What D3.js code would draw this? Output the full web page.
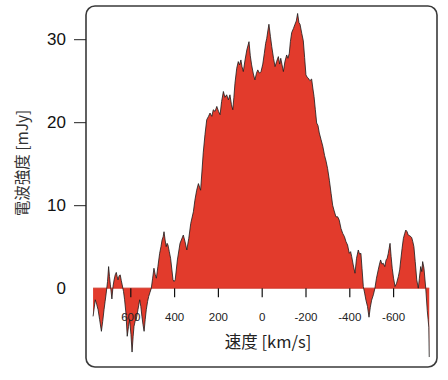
<!DOCTYPE html>
<html>
<head>
<meta charset="utf-8">
<script src="https://cdn.jsdelivr.net/npm/d3@7"></script>
<style>
  body { margin: 0; background: #fff; }
  svg { display: block; }
</style>
</head>
<body>
<script>
// spectrum: velocity [km/s] and flux density [mJy]
const velocity = [
  770, 760, 753, 747, 740, 732, 726, 720, 715, 710,
  704, 699, 695, 691, 684, 679, 674, 669, 664, 660,
  656, 651, 646, 641, 637, 631, 626, 620, 614, 608,
  603, 597, 592, 587, 583, 578, 573, 565, 557, 552,
  547, 542, 537, 532, 527, 521, 516, 510, 504, 498,
  492, 486, 481, 474, 466, 460, 455, 450, 446, 441,
  436, 432, 428, 422, 416, 410, 405, 400, 395, 385,
  373, 358, 350, 342, 333, 324, 312, 305, 297, 289,
  279, 273, 267, 259, 251, 243, 236, 228, 221, 213,
  205, 197, 190, 183, 175, 168, 160, 152, 145, 138,
  132, 127, 122, 114, 107, 101, 95, 90, 84, 76,
  68, 58, 52, 46, 38, 31, 24, 18, 10, 3,
  -5, -12, -18, -23, -28, -33, -40, -46, -54, -61,
  -68, -76, -82, -87, -93, -99, -106, -114, -120, -126,
  -131, -137, -145, -152, -158, -164, -170, -175, -183, -190,
  -196, -202, -208, -213, -220, -228, -234, -239, -245, -251,
  -257, -263, -271, -279, -287, -294, -301, -309, -317, -324,
  -331, -339, -347, -354, -362, -370, -378, -385, -392, -400,
  -406, -411, -418, -426, -433, -441, -447, -453, -458, -464,
  -470, -476, -483, -490, -496, -502, -510, -517, -524, -532,
  -538, -543, -549, -555, -562, -568, -573, -578, -582, -586,
  -591, -596, -602, -609, -616, -624, -630, -635, -641, -647,
  -653, -658, -664, -669, -677, -685, -690, -695, -701, -708,
  -715, -720, -726, -731, -735, -741, -749, -756, -760, -763, -765
];
const flux = [
  -3.4, -1.4, -2.0, -2.6, -3.8, -5.2, -4.0, -2.6, -1.6, -0.6,
  0.8, 2.6, 1.4, 0.4, -1.3, 0.2, 1.0, 1.6, 1.9, 1.4,
  1.0, 1.5, 1.6, 0.9, 0.4, -0.4, -1.4, -3.0, -5.8, -4.6,
  -3.8, -5.6, -7.7, -5.8, -4.6, -4.0, -3.8, -2.6, -1.4, -2.2,
  -3.4, -4.4, -5.2, -3.8, -2.6, -1.6, -1.0, -0.5, 0, 1.2,
  2.4, 1.6, 1.2, 2.6, 4.2, 5.0, 5.8, 6.2, 6.8, 5.8,
  5.0, 5.4, 5.2, 4.4, 3.6, 2.2, 1.0, 0.8, 1.0, 3.4,
  5.4, 6.4, 5.6, 4.6, 6.0, 7.8, 9.2, 10.6, 11.8, 12.6,
  11.8, 14.0, 16.3, 18.5, 20.3, 20.7, 21.1, 20.7, 21.5, 21.3,
  21.9, 21.3, 20.9, 22.5, 23.7, 23.0, 23.3, 22.7, 23.3, 22.1,
  21.5, 23.0, 24.7, 26.5, 27.3, 26.9, 27.5, 26.7, 26.1, 27.5,
  28.7, 29.7, 28.0, 26.9, 25.8, 25.1, 25.9, 26.3, 25.9, 26.1,
  27.0, 28.3, 29.5, 30.1, 31.0, 31.8, 30.3, 29.1, 27.7, 26.7,
  27.3, 27.9, 27.0, 27.7, 26.9, 26.1, 27.3, 28.1, 27.7, 28.3,
  29.7, 30.8, 31.3, 31.8, 32.2, 33.1, 32.0, 31.8, 30.7, 29.8,
  27.8, 25.7, 25.4, 25.3, 25.0, 25.2, 24.0, 23.1, 21.5, 19.9,
  19.6, 18.7, 17.9, 17.1, 16.0, 15.3, 14.4, 13.0, 11.4, 10.0,
  9.3, 8.6, 8.6, 8.2, 7.2, 6.6, 6.2, 5.6, 5.2, 4.2,
  4.4, 3.8, 2.8, 1.8, 3.6, 4.6, 4.1, 4.2, 2.4, 0.2,
  -0.6, -1.45, -2.2, -3.5, -2.3, -1.45, -0.8, 0, 1.2, 2.2,
  2.9, 3.4, 2.9, 3.0, 2.6, 3.4, 3.6, 4.2, 4.8, 5.4,
  3.8, 2.4, 1.2, 0.2, 0.6, 1.4, 2.2, 3.4, 4.8, 6.0,
  6.6, 7.0, 6.8, 6.4, 6.3, 6.1, 5.6, 5.0, 3.2, 1.0,
  0, 1.2, 2.6, 2.0, 3.2, 2.4, 0, -2.7, -3.8, -4.7, -8.3
];
const xTicks = [600, 400, 200, 0, -200, -400, -600];
const yTicks = [0, 10, 20, 30];

const data = velocity.map((v, i) => ({v, f: flux[i]}));

const width = 448, height = 380;
const box = {left: 86, top: 6, right: 437, bottom: 367};

const x = d3.scaleLinear().domain([800, -800]).range([86.5, 436.9]);
const y = d3.scaleLinear().domain([-9.5, 34]).range([box.bottom, box.top]);

const svg = d3.select("body").append("svg")
    .attr("width", width)
    .attr("height", height)
    .attr("viewBox", [0, 0, width, height]);

svg.append("rect")
    .attr("x", box.left)
    .attr("y", box.top)
    .attr("width", box.right - box.left)
    .attr("height", box.bottom - box.top)
    .attr("rx", 9)
    .attr("fill", "#fff")
    .attr("stroke", "#3a3a3a")
    .attr("stroke-width", 1.6);

const area = d3.area()
    .x(d => x(d.v))
    .y0(y(0))
    .y1(d => y(d.f));

const line = d3.line()
    .x(d => x(d.v))
    .y(d => y(d.f));

svg.append("path")
    .datum(data)
    .attr("fill", "#e23b2c")
    .attr("d", area);

svg.append("line")
    .attr("x1", x(velocity[0]))
    .attr("x2", x(velocity[velocity.length - 1]))
    .attr("y1", y(0))
    .attr("y2", y(0))
    .attr("stroke", "#d0382a")
    .attr("stroke-width", 1);

svg.append("path")
    .datum(data)
    .attr("fill", "none")
    .attr("stroke", "#1a1a1a")
    .attr("stroke-width", 0.8)
    .attr("stroke-linejoin", "round")
    .attr("d", line);

// x axis sits on the zero line
const gx = svg.append("g")
    .attr("transform", `translate(0,${y(0)})`)
    .call(d3.axisBottom(x).tickValues(xTicks).tickSize(9).tickPadding(16).tickFormat(d3.format("d")))
    .call(g => g.select(".domain").remove());
gx.selectAll(".tick line").attr("stroke", "#111").attr("stroke-width", 1.2);
gx.selectAll(".tick text")
    .attr("font-family", "Liberation Sans, Arial, sans-serif")
    .attr("font-size", 11.5)
    .attr("fill", "#222")
    .text(d => d < 0 ? "-" + Math.abs(d) : d);

// y axis, ticks outside the box, none at 0
const gy = svg.append("g")
    .attr("transform", `translate(${box.left},0)`)
    .call(d3.axisLeft(y).tickValues(yTicks).tickSize(12).tickPadding(8))
    .call(g => g.select(".domain").remove());
gy.selectAll(".tick line")
    .attr("stroke", "#222")
    .attr("stroke-width", 1)
    .attr("display", d => d === 0 ? "none" : null);
gy.selectAll(".tick text")
    .attr("font-family", "Liberation Sans, Arial, sans-serif")
    .attr("font-size", 17)
    .attr("fill", "#111");

svg.append("text")
    .attr("x", 268)
    .attr("y", 342)
    .attr("dy", "0.35em")
    .attr("text-anchor", "middle")
    .attr("font-family", "Noto Sans CJK JP, sans-serif")
    .attr("font-size", 16.5)
    .attr("fill", "#222")
    .text("速度 [km/s]");

svg.append("text")
    .attr("transform", "translate(23,163) rotate(-90)")
    .attr("dy", "0.35em")
    .attr("text-anchor", "middle")
    .attr("font-family", "Noto Sans CJK JP, sans-serif")
    .attr("font-size", 15.5)
    .attr("fill", "#333")
    .text("電波強度 [mJy]");
</script>
</body>
</html>
